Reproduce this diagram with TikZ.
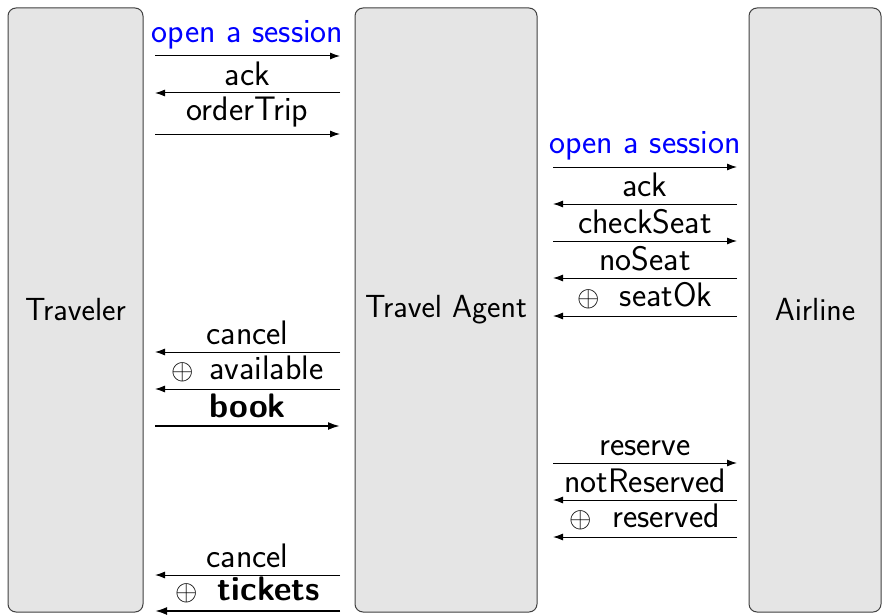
\documentclass[tikz,border=0pt]{standalone}
\usetikzlibrary{arrows.meta}
\newcommand{\xor}{{\fontsize{14}{16}\selectfont$\oplus$}}
\begin{document}
\begin{tikzpicture}[x=0.5pt,y=-0.5pt,font=\fontsize{16}{19}\selectfont\sffamily]
% Estilos
\tikzset{party/.style={draw=black!75,fill=black!10,rounded corners=4pt,line width=0.5pt,minimum height=302pt,inner sep=0pt},
msg/.style={line width=0.5pt,-{Latex[length=5pt,width=3.5pt]}},
bold msg/.style={line width=1pt,-{Latex[length=6pt,width=4pt]}},
lbl/.style={font=\fontsize{17}{20}\selectfont\sffamily,inner xsep=2pt,inner ysep=3.4pt}}
\useasboundingbox (0,0) rectangle (882,615);

% Participantes
\node[party,minimum width=67.5pt] (traveler) at (75.5,310) {Traveler};
\node[party,minimum width=91pt] (agent) at (446,310) {Travel Agent};
\node[party,minimum width=66pt] (airline) at (815,310) {Airline};

% Traveler <-> Travel Agent
\foreach \y/\s/\t/\sty/\txt in {56/l/r/msg/{\color{blue}open a session},93/r/l/msg/ack,134/l/r/msg/orderTrip,
  352/r/l/msg/cancel,389/r/l/msg/{\xor\hspace{7.5pt}available},426/l/r/bold msg/{\bfseries book},
  575/r/l/msg/cancel,611/r/l/bold msg/{\xor\hspace{10pt}\bfseries tickets}}{
    \coordinate (l\y) at (155,\y);
    \coordinate (r\y) at (340,\y);
    \draw[\sty] (\s\y) -- (\t\y) node[midway,above,lbl] (ta\y) {\txt};
}

% Travel Agent <-> Airline
\foreach \y/\s/\t/\txt in {167/L/R/{\color{blue}open a session},204/R/L/ack,241/L/R/checkSeat,278/R/L/noSeat,
  316/R/L/{\xor\hspace{10pt}seatOk},463/L/R/reserve,500/R/L/notReserved,537/R/L/{\xor\hspace{10pt}reserved}}{
    \coordinate (L\y) at (553,\y);
    \coordinate (R\y) at (737,\y);
    \draw[msg] (\s\y) -- (\t\y) node[midway,above,lbl] (aa\y) {\txt};
}

\end{tikzpicture}
\end{document}
